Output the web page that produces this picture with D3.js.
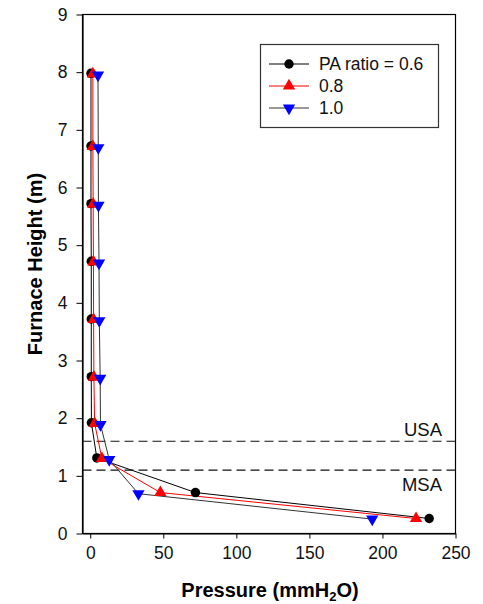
<!DOCTYPE html>
<html><head><meta charset="utf-8">
<script src="https://cdn.jsdelivr.net/npm/d3@7"></script>
<style>body{margin:0;background:#fff}svg{display:block}</style>
</head><body>
<svg id="c" width="483" height="604"></svg>
<script>
const heights06 = [7.98, 6.72, 5.72, 4.72, 3.72, 2.72, 1.92, 1.31, 0.71, 0.26];
const pressure06 = [0.5, 0.5, 0.5, 0.7, 0.7, 0.7, 0.8, 4.5, 72, 232];
const heights08 = [7.97, 6.71, 5.71, 4.71, 3.71, 2.71, 1.91, 1.30, 0.71, 0.26];
const pressure08 = [1.8, 1.8, 2, 2.2, 2.3, 2.5, 3, 8, 48, 223];
const heights10 = [7.95, 6.69, 5.69, 4.69, 3.69, 2.69, 1.89, 1.28, 0.69, 0.25];
const pressure10 = [5.3, 5.5, 5.6, 6, 6.2, 6.8, 7, 13, 33, 193];
const seriesNames = ["PA ratio = 0.6", "0.8", "1.0"];
const xTicks = [0, 50, 100, 150, 200, 250];
const yTicks = [0, 1, 2, 3, 4, 5, 6, 7, 8, 9];
const refLines = [1.6, 1.1];
const refLabels = ["USA", "MSA"];

const svg = d3.select("#c");
const L = 82.5, R = 455.5, T = 14.5, B = 533.5;
const x = d3.scaleLinear().domain([-5.3, 250]).range([L, R]);
const y = d3.scaleLinear().domain([0, 9]).range([B, T]);
const font = "Arial, 'Liberation Sans', sans-serif";

// frame
svg.append("rect").attr("x", L).attr("y", T).attr("width", R - L).attr("height", B - T)
  .attr("fill", "none").attr("stroke", "#000").attr("stroke-width", 1.2);

// axes
const xa = svg.append("g").attr("transform", `translate(0,${B})`)
  .call(d3.axisBottom(x).tickValues(xTicks).tickSize(5).tickSizeOuter(0).tickPadding(8));
const ya = svg.append("g").attr("transform", `translate(${L},0)`)
  .call(d3.axisLeft(y).tickValues(yTicks).tickSize(6).tickSizeOuter(0).tickPadding(9));
[xa, ya].forEach(a => {
  a.select(".domain").attr("stroke", "#000").attr("stroke-width", 1.2);
  a.selectAll(".tick line").attr("stroke", "#000").attr("stroke-width", 1);
  a.selectAll("text").attr("font-family", font).attr("font-size", 17.5).attr("fill", "#111");
});

// reference lines
refLines.forEach((v, i) => {
  svg.append("line").attr("x1", L).attr("x2", R).attr("y1", y(v)).attr("y2", y(v))
    .attr("stroke", "#111").attr("stroke-width", 1.2).attr("stroke-dasharray", "9,5");
  svg.append("text").attr("x", 442).attr("y", i === 0 ? y(v) - 5 : y(v) + 21)
    .attr("text-anchor", "end").attr("font-family", font).attr("font-size", 18.5)
    .attr("fill", "#111").text(refLabels[i]);
});

const series = [
  {p: pressure06, h: heights06, line: "#000", fill: "#000", sym: d3.symbolCircle, rot: 0, size: 70},
  {p: pressure08, h: heights08, line: "#ff0000", fill: "#ff0000", sym: d3.symbolTriangle, rot: 0, size: 66},
  {p: pressure10, h: heights10, line: "#333", fill: "#0000ff", sym: d3.symbolTriangle, rot: 180, size: 66}
];
const lineGen = d3.line().x(d => x(d[0])).y(d => y(d[1]));
series.forEach(s => {
  const pts = s.p.map((v, i) => [v, s.h[i]]);
  svg.append("path").attr("d", lineGen(pts)).attr("fill", "none")
    .attr("stroke", s.line).attr("stroke-width", 1);
});
series.forEach(s => {
  const pts = s.p.map((v, i) => [v, s.h[i]]);
  svg.append("g").selectAll("path").data(pts).join("path")
    .attr("d", d3.symbol().type(s.sym).size(s.size))
    .attr("transform", d => `translate(${x(d[0])},${y(d[1])}) rotate(${s.rot})`)
    .attr("fill", s.fill);
});

// legend
const lg = svg.append("g");
lg.append("rect").attr("x", 260.5).attr("y", 44.5).attr("width", 178).attr("height", 83)
  .attr("fill", "#fff").attr("stroke", "#333").attr("stroke-width", 1.2);
const rowsY = [64, 86, 108];
series.forEach((s, i) => {
  lg.append("line").attr("x1", 269).attr("x2", 309).attr("y1", rowsY[i]).attr("y2", rowsY[i])
    .attr("stroke", s.line).attr("stroke-width", 1);
  lg.append("path").attr("d", d3.symbol().type(s.sym).size(s.size))
    .attr("transform", `translate(289,${rowsY[i]}) rotate(${s.rot})`).attr("fill", s.fill);
  lg.append("text").attr("x", 319).attr("y", rowsY[i] + 6).attr("font-family", font)
    .attr("font-size", 17.5).attr("fill", "#111").text(seriesNames[i]);
});

// axis titles
const xt = svg.append("text").attr("x", 270).attr("y", 597).attr("text-anchor", "middle")
  .attr("font-family", font).attr("font-size", 20).attr("font-weight", "bold").attr("fill", "#000");
xt.append("tspan").text("Pressure (mmH");
xt.append("tspan").attr("font-size", 13).attr("dy", 4).text("2");
xt.append("tspan").attr("dy", -4).text("O)");
svg.append("text").attr("transform", "translate(42,264) rotate(-90)").attr("text-anchor", "middle")
  .attr("font-family", font).attr("font-size", 20).attr("font-weight", "bold").attr("fill", "#000")
  .text("Furnace Height (m)");
</script>
</body></html>
